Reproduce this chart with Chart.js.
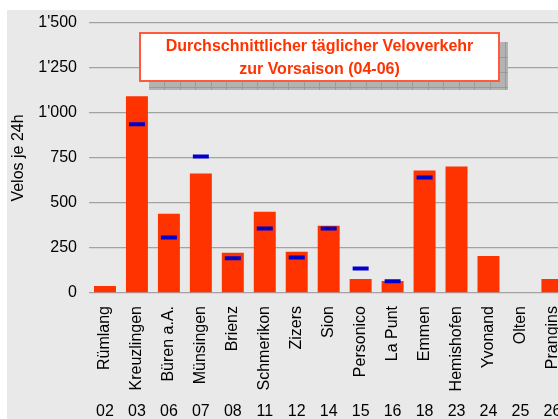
<!DOCTYPE html>
<html>
<head>
<meta charset="utf-8">
<script src="https://cdn.jsdelivr.net/npm/chart.js@4.4.1/dist/chart.umd.min.js"></script>
<style>
  html, body { margin: 0; padding: 0; background: #fff; overflow: hidden; }
  #wrap { position: absolute; left: 7px; top: 10px; width: 578px; height: 409px; background: #e9e9e9; }
  canvas { display: block; }
</style>
</head>
<body>
<div id="wrap"><canvas id="veloChart" width="578" height="409"></canvas></div>
<script>
// Standorte (Zählstellen) und Nummern
const stations = ["Rümlang", "Kreuzlingen", "Büren a.A.", "Münsingen", "Brienz", "Schmerikon", "Zizers",
                  "Sion", "Personico", "La Punt", "Emmen", "Hemishofen", "Yvonand", "Olten", "Prangins"];
const stationNumbers = ["02", "03", "06", "07", "08", "11", "12", "14", "15", "16", "18", "23", "24", "25", "26"];

// Vorsaison 04-06 (Balken) und Vergleichswert (blaue Striche)
const preseason = [39, 1093, 440, 664, 223, 452, 229, 374, 78, 67, 680, 703, 206, 0, 78];
const reference = [null, 937, 308, 758, 193, 359, 197, 359, 136, 65, 641, null, null, null, null];

const yTicks = [0, 250, 500, 750, 1000, 1250, 1500];
const titleLines = ["Durchschnittlicher täglicher Veloverkehr", "zur Vorsaison (04-06)"];

const FONT = "'Liberation Sans', Arial, sans-serif";

function swiss(v) {
    return String(v).replace(/\B(?=(\d{3})+(?!\d))/g, "'");
}

// Titelkasten mit Schatten
const titleBox = {
    id: "titleBox",
    afterDraw(chart) {
        const ctx = chart.ctx;
        const x = 133, y = 23, w = 359, h = 48;
        ctx.save();
        // Schatten mit Raster
        ctx.fillStyle = "#b3b3b3";
        ctx.fillRect(x + 9, y + 9, w, h);
        ctx.strokeStyle = "#9a9a9a";
        ctx.lineWidth = 1;
        ctx.beginPath();
        for (let gx = x + 9 + 15; gx < x + 9 + w; gx += 15.5) {
            ctx.moveTo(Math.round(gx) + 0.5, y + 9);
            ctx.lineTo(Math.round(gx) + 0.5, y + 9 + h);
        }
        for (let gy = y + 9 + 15; gy < y + 9 + h; gy += 15) {
            ctx.moveTo(x + 9, gy + 0.5);
            ctx.lineTo(x + 9 + w, gy + 0.5);
        }
        ctx.stroke();
        // Kasten
        ctx.fillStyle = "#ffffff";
        ctx.fillRect(x, y, w, h);
        ctx.strokeStyle = "#ff5a3a";
        ctx.lineWidth = 2;
        ctx.strokeRect(x, y, w, h);
        // Text
        ctx.fillStyle = "#ff3300";
        ctx.font = "bold 16px " + FONT;
        ctx.textAlign = "center";
        ctx.textBaseline = "alphabetic";
        ctx.fillText(titleLines[0], x + w / 2, 41);
        ctx.fillText(titleLines[1], x + w / 2, 64);
        ctx.restore();
    }
};

const ctx = document.getElementById("veloChart").getContext("2d");
new Chart(ctx, {
    type: "bar",
    data: {
        labels: stations,
        datasets: [{
            type: "line",
            label: "Vergleich",
            data: reference,
            showLine: false,
            pointStyle: "line",
            pointRadius: 8,
            pointHoverRadius: 8,
            pointBorderWidth: 4,
            pointBorderColor: "#0000cc",
            pointBackgroundColor: "#0000cc",
            order: 0
        }, {
            label: "Vorsaison 04-06",
            data: preseason,
            backgroundColor: "#ff3300",
            borderWidth: 0,
            barPercentage: 0.6875,
            categoryPercentage: 1,
            order: 1
        }]
    },
    options: {
        responsive: false,
        animation: false,
        events: [],
        layout: { padding: { top: 13, left: 0, right: 0, bottom: 0 } },
        plugins: {
            legend: { display: false },
            tooltip: { enabled: false }
        },
        scales: {
            y: {
                min: 0,
                max: 1500,
                afterBuildTicks: axis => { axis.ticks = yTicks.map(v => ({ value: v })); },
                afterFit: axis => {
                    axis.width = 82;
                    axis.paddingTop = 8;
                    axis.paddingBottom = 8;
                },
                border: { display: false },
                grid: { color: "#a3a3a3", lineWidth: 1.3, drawTicks: false },
                ticks: {
                    padding: 12,
                    color: "#000",
                    font: { family: FONT, size: 16 },
                    callback: v => swiss(v)
                },
                title: {
                    display: true,
                    text: "Velos je 24h",
                    color: "#000",
                    font: { family: FONT, size: 16 },
                    padding: { top: 2, bottom: 0 }
                }
            },
            x: {
                afterFit: axis => { axis.height = 104; },
                border: { display: false },
                grid: { display: false, drawTicks: false },
                ticks: {
                    autoSkip: false,
                    minRotation: 90,
                    maxRotation: 90,
                    padding: 13,
                    color: "#000",
                    font: { family: FONT, size: 16 }
                }
            },
            x2: {
                type: "category",
                position: "bottom",
                labels: stationNumbers,
                offset: true,
                afterFit: axis => { axis.height = 22; },
                border: { display: false },
                grid: { display: false, drawTicks: false },
                ticks: {
                    autoSkip: false,
                    maxRotation: 0,
                    padding: 5,
                    color: "#000",
                    font: { family: FONT, size: 16 }
                }
            }
        }
    },
    plugins: [titleBox]
});
</script>
</body>
</html>
